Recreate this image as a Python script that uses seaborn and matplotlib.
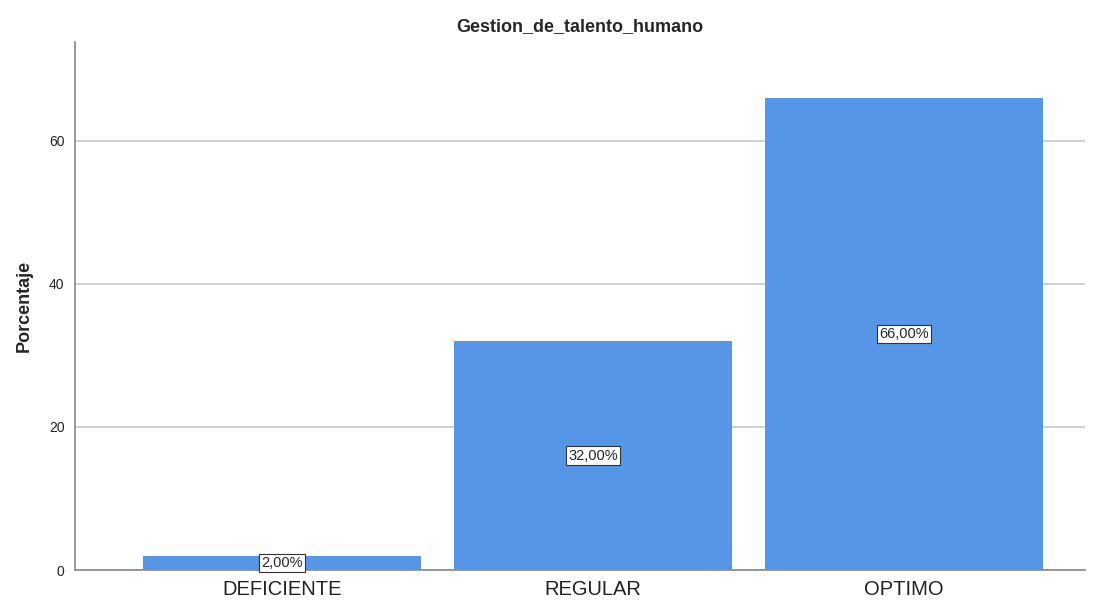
import pandas as pd
import seaborn as sns
import matplotlib.pyplot as plt

categorias = ["DEFICIENTE", "REGULAR", "OPTIMO"]
porcentajes = [2.0, 32.0, 66.0]
etiquetas = ["2,00%", "32,00%", "66,00%"]

df = pd.DataFrame({"categoria": categorias, "porcentaje": porcentajes})

sns.set_style("white")
plt.rcParams['font.family'] = ['Liberation Sans', 'DejaVu Sans']

fig = plt.figure(figsize=(10.99, 6.01), dpi=100)
ax = fig.add_axes([75 / 1099, 31 / 601, 1010 / 1099, 528 / 601])

sns.barplot(data=df, x="categoria", y="porcentaje", color="#5596E6", saturation=1,
            width=0.894, ax=ax, zorder=3, edgecolor="#5596E6", linewidth=0)

for i, (v, t) in enumerate(zip(porcentajes, etiquetas)):
    ax.text(i, v / 2, t, ha="center", va="center", fontsize=10.5, zorder=5,
            bbox=dict(boxstyle="square,pad=0.15", fc="white", ec="#333333", lw=0.8))

ax.set_ylim(0, 73.8)
ax.set_xlim(-0.666, 2.582)
ax.set_yticks([0, 20, 40, 60])
ax.yaxis.grid(True, color="#c8c8c8", lw=1.2, zorder=0)
ax.set_axisbelow(True)

for s in ["top", "right"]:
    ax.spines[s].set_visible(False)
for s in ["left", "bottom"]:
    ax.spines[s].set_color("#888888")
    ax.spines[s].set_linewidth(1.2)

ax.tick_params(axis="y", labelsize=10, colors="#222222", length=4, color="#888888")
ax.tick_params(axis="x", labelsize=14.5, colors="#222222", length=0, pad=7)
ax.set_xlabel("")
ax.set_ylabel("Porcentaje", fontsize=13, fontweight="bold", labelpad=12)
ax.set_title("Gestion_de_talento_humano", fontsize=13, fontweight="bold", pad=8)

fig.savefig("out.png", dpi=100)
